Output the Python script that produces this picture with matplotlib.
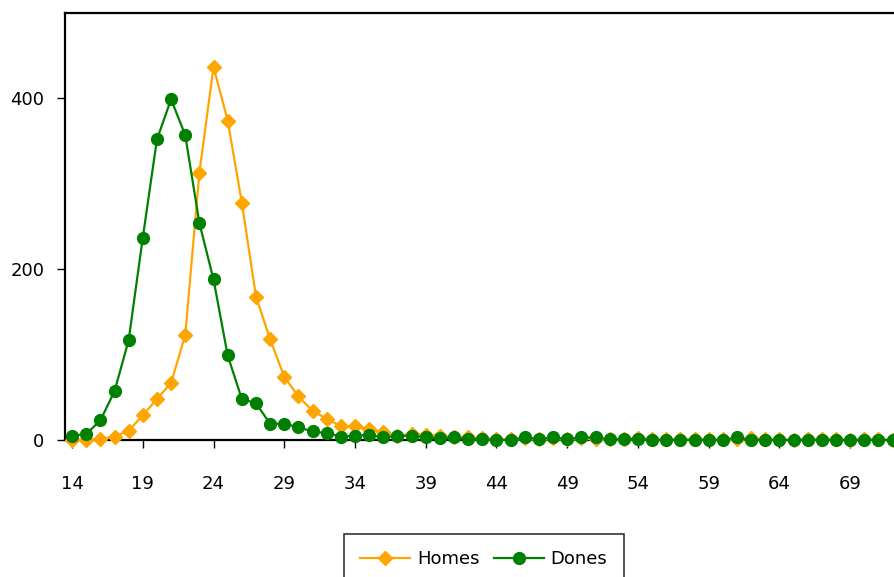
import matplotlib
matplotlib.use('Agg')
from matplotlib import pyplot

FIG_WIDTH = 8.94
FIG_HEIGHT = 5.77
DPI = 100
FONT_SIZE = 13
ORANGE = '#FFA500'
GREEN = '#008000'

ages = list(range(14, 73))
homes = [0, 0, 1, 4, 11, 29, 48, 67, 123, 313,
         437, 374, 278, 168, 118, 74, 51, 34, 25, 16,
         16, 13, 9, 5, 7, 6, 5, 3, 4, 2,
         1, 1, 2, 1, 2, 1, 2, 1, 1, 1,
         2, 1, 1, 1, 1, 1, 1, 1, 2, 1,
         1, 0, 1, 1, 1, 0, 1, 1, 0]
dones = [5, 7, 23, 57, 117, 237, 352, 399, 357, 254,
         188, 99, 48, 43, 19, 19, 15, 10, 8, 4,
         5, 6, 3, 5, 5, 3, 2, 3, 1, 1,
         0, 0, 3, 1, 3, 1, 3, 3, 1, 1,
         1, 0, 0, 0, 0, 0, 0, 3, 0, 0,
         0, 0, 0, 0, 0, 0, 0, 0, 0]
x_ticks = list(range(14, 70, 5))
y_ticks = [0, 200, 400]

pyplot.rcParams['font.family'] = 'DejaVu Sans'
pyplot.rcParams['font.size'] = FONT_SIZE

fig = pyplot.figure(figsize=(FIG_WIDTH, FIG_HEIGHT), dpi=DPI)
ax = fig.add_axes([0.0727, 0.2374, 0.9273, 0.7400])

ax.plot(ages, homes, color=ORANGE, linewidth=1.6, marker='D', markersize=7,
        label='Homes', clip_on=False, zorder=3)
ax.plot(ages, dones, color=GREEN, linewidth=1.6, marker='o', markersize=8.5,
        label='Dones', clip_on=False, zorder=4)

ax.set_xlim(13.5, 72.1)
ax.set_ylim(0, 500)
ax.set_xticks(x_ticks)
ax.set_yticks(y_ticks)
ax.tick_params(axis='x', direction='out', length=6, width=1, pad=19)
ax.tick_params(axis='y', direction='out', length=6, width=1, pad=9)
for side in ['left', 'top', 'bottom']:
    ax.spines[side].set_linewidth(1.6)
ax.spines['right'].set_visible(False)

leg = fig.legend(loc='upper center', bbox_to_anchor=(0.541, 0.0745), ncol=2,
                 frameon=True, fancybox=False, edgecolor='black', numpoints=1,
                 handlelength=2.8, handletextpad=0.35, columnspacing=0.8,
                 borderpad=0.9, borderaxespad=0)
leg.get_frame().set_linewidth(1.2)

fig.savefig('out.png', dpi=DPI)
